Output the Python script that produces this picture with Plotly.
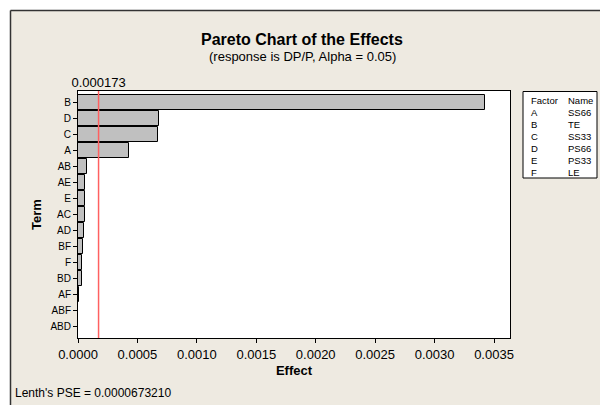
import plotly.graph_objects as go

# ---- data ----
terms = ["B", "D", "C", "A", "AB", "AE", "E", "AC", "AD", "BF", "F", "BD", "AF", "ABF", "ABD"]
effects = [0.003427, 0.000684, 0.000676, 0.000429, 0.000079, 0.000059, 0.000058,
           0.000056, 0.000050, 0.000042, 0.000034, 0.000033, 0.000008, 0.000002, 0.000001]
threshold = 0.000173
threshold_label = "0.000173"
x_ticks = [0.0, 0.0005, 0.0010, 0.0015, 0.0020, 0.0025, 0.0030, 0.0035]
factors = ["A", "B", "C", "D", "E", "F"]
factor_names = ["SS66", "TE", "SS33", "PS66", "PS33", "LE"]
pse_text = "Lenth's PSE = 0.0000673210"

# ---- layout geometry (pixels) ----
W, H = 600, 405
L, R, T, B = 78, 510, 91, 338
BG = "#EEEAE1"
FONT = "Liberation Sans, Arial, sans-serif"


def px(x):
    return (x - L) / (R - L)


def py(y):
    return (B - y) / (B - T)


fig = go.Figure()
fig.add_trace(go.Bar(
    x=effects, y=terms, orientation="h", width=0.94,
    marker=dict(color="#C0C0C0", line=dict(color="black", width=1)),
    showlegend=False, hoverinfo="x+y",
))
# invisible trace for top axis
fig.add_trace(go.Scatter(x=[threshold], y=[terms[0]], xaxis="x2", mode="markers",
                         marker=dict(opacity=0), showlegend=False, hoverinfo="skip"))

xr = [0, (R - L) / (494 - L) * 0.0035]

fig.add_shape(type="line", xref="x", yref="y domain", x0=threshold, x1=threshold,
              y0=0, y1=1, line=dict(color="#FF6060", width=1.5), layer="above")

shapes = [
    # white strips outside outer frame
    dict(type="rect", xref="paper", yref="paper", x0=px(-5), x1=px(W + 5), y0=py(10), y1=py(-5),
         fillcolor="white", line=dict(width=0), layer="below"),
    dict(type="rect", xref="paper", yref="paper", x0=px(-5), x1=px(10), y0=py(H + 5), y1=py(-5),
         fillcolor="white", line=dict(width=0), layer="below"),
    dict(type="line", xref="paper", yref="paper", x0=px(10.5), x1=px(W + 5), y0=py(10.5), y1=py(10.5),
         line=dict(color="#333333", width=1.5)),
    dict(type="line", xref="paper", yref="paper", x0=px(10.5), x1=px(10.5), y0=py(10.5), y1=py(H + 5),
         line=dict(color="#333333", width=1.5)),
    # factor table box
    dict(type="rect", xref="paper", yref="paper", x0=px(523), x1=px(597), y0=py(178), y1=py(91.5),
         fillcolor="white", line=dict(color="black", width=1)),
]
for s in shapes:
    fig.add_shape(**s)

ann = [
    dict(text="<b>Pareto Chart of the Effects</b>", x=px(302), y=py(40), font=dict(size=16)),
    dict(text="(response is DP/P, Alpha = 0.05)", x=px(302), y=py(56), font=dict(size=13)),
    dict(text=pse_text, x=px(13), y=py(393), xanchor="left", font=dict(size=12)),
    dict(text="Factor", x=px(529), y=py(100), xanchor="left", font=dict(size=9.5)),
    dict(text="Name", x=px(566), y=py(100), xanchor="left", font=dict(size=9.5)),
]
for i, (f, n) in enumerate(zip(factors, factor_names)):
    yy = 112 + 12 * i
    ann.append(dict(text=f, x=px(529), y=py(yy), xanchor="left", font=dict(size=9.5)))
    ann.append(dict(text=n, x=px(566), y=py(yy), xanchor="left", font=dict(size=9.5)))
for a in ann:
    a.setdefault("xanchor", "center")
    fig.add_annotation(xref="paper", yref="paper", showarrow=False, yanchor="middle",
                       **a)

fig.update_layout(
    width=W, height=H,
    margin=dict(l=L, r=W - R, t=T, b=H - B, pad=0),
    paper_bgcolor=BG, plot_bgcolor="white",
    font=dict(family=FONT, color="black", size=12),
    bargap=0,
    xaxis=dict(range=xr, tickvals=x_ticks, tickformat=".4f", ticks="outside", ticklen=4,
               tickcolor="black", showline=True, linecolor="black", linewidth=1, mirror=True,
               showgrid=False, zeroline=False, tickfont=dict(size=13),
               title=dict(text="<b>Effect</b>", font=dict(size=13), standoff=5)),
    xaxis2=dict(range=xr, overlaying="x", side="top", tickvals=[threshold],
                ticktext=[threshold_label], ticks="", showgrid=False, zeroline=False,
                showline=False, tickfont=dict(size=13)),
    yaxis=dict(type="category", categoryorder="array", categoryarray=terms,
               range=[len(terms) - 1 + 0.75, -0.75], ticks="outside", ticklen=4,
               tickcolor="black", showline=True, linecolor="black", linewidth=1, mirror=True,
               showgrid=False, zeroline=False, tickfont=dict(size=10),
               title=dict(text="<b>Term</b>", font=dict(size=13), standoff=5)),
)

fig.write_html("out.html")
